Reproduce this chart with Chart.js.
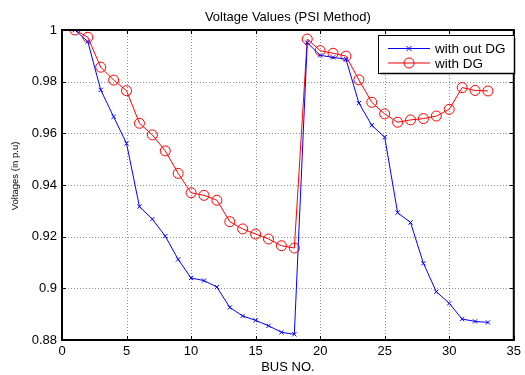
<!DOCTYPE html>
<html>
<head>
<meta charset="utf-8">
<script src="https://cdn.jsdelivr.net/npm/chart.js@4.4.1/dist/chart.umd.min.js"></script>
<style>
  html, body { margin: 0; padding: 0; background: #fff; }
  #wrap { width: 525px; height: 375px; }
</style>
</head>
<body>
<div id="wrap"><canvas id="c" width="525" height="375"></canvas></div>
<script>
const chartTitle = 'Voltage Values (PSI Method)';
const xTitle = 'BUS NO.';
const yTitle = 'Voltages (in p.u)';
const seriesNames = ['with out DG', 'with DG'];
const buses = [1,2,3,4,5,6,7,8,9,10,11,12,13,14,15,16,17,18,19,20,21,22,23,24,25,26,27,28,29,30,31,32,33];
const withoutDG = [1.000, 0.9955, 0.9768, 0.9664, 0.9561, 0.9316, 0.9268, 0.9202, 0.9112, 0.9040, 0.9030,
  0.9005, 0.8926, 0.8893, 0.8876, 0.8855, 0.8830, 0.8822, 0.9951, 0.9902, 0.9894, 0.9887, 0.9717,
  0.9631, 0.9585, 0.9293, 0.9255, 0.9097, 0.8987, 0.8942, 0.8881, 0.8872, 0.8868];
const withDG = [1.000, 0.9972, 0.9856, 0.9806, 0.9765, 0.9639, 0.9594, 0.9532, 0.9445, 0.9370, 0.9360,
  0.9341, 0.9258, 0.9230, 0.9210, 0.9191, 0.9165, 0.9156, 0.9965, 0.9920, 0.9910, 0.9899, 0.9807,
  0.9720, 0.9675, 0.9643, 0.9652, 0.9657, 0.9667, 0.9693, 0.9777, 0.9766, 0.9764];
const xTicks = [0, 5, 10, 15, 20, 25, 30, 35];
const yTicks = [0.88, 0.90, 0.92, 0.94, 0.96, 0.98, 1.00];

const FONT = '"Liberation Sans", Arial, sans-serif';

const matlabPlugin = {
  id: 'matlab',
  beforeDatasetsDraw(chart) {
    const {ctx, chartArea: a, scales: {x, y}} = chart;
    ctx.save();
    ctx.strokeStyle = 'rgba(0,0,0,0.45)';
    ctx.lineWidth = 1;
    ctx.setLineDash([1, 2]);
    xTicks.forEach(v => {
      const px = Math.round(x.getPixelForValue(v)) + 0.5;
      ctx.beginPath(); ctx.moveTo(px, a.top); ctx.lineTo(px, a.bottom); ctx.stroke();
    });
    yTicks.forEach(v => {
      const py = Math.round(y.getPixelForValue(v)) + 0.5;
      ctx.beginPath(); ctx.moveTo(a.left, py); ctx.lineTo(a.right, py); ctx.stroke();
    });
    ctx.restore();
  },
  afterDatasetsDraw(chart) {
    const {ctx, chartArea: a, scales: {x, y}} = chart;
    ctx.save();
    ctx.strokeStyle = '#000';
    ctx.lineWidth = 1;
    const t = 4;
    xTicks.forEach(v => {
      const px = Math.round(x.getPixelForValue(v)) + 0.5;
      ctx.beginPath(); ctx.moveTo(px, a.bottom); ctx.lineTo(px, a.bottom - t); ctx.stroke();
      ctx.beginPath(); ctx.moveTo(px, a.top); ctx.lineTo(px, a.top + t); ctx.stroke();
    });
    yTicks.forEach(v => {
      const py = Math.round(y.getPixelForValue(v)) + 0.5;
      ctx.beginPath(); ctx.moveTo(a.left, py); ctx.lineTo(a.left + t, py); ctx.stroke();
      ctx.beginPath(); ctx.moveTo(a.right, py); ctx.lineTo(a.right - t, py); ctx.stroke();
    });
    ctx.lineWidth = 2;
    ctx.strokeRect(a.left, a.top, a.right - a.left, a.bottom - a.top);
    ctx.restore();
  },
  afterDraw(chart) {
    const {ctx, chartArea: a} = chart;
    ctx.save();
    // title
    ctx.fillStyle = '#000';
    ctx.font = '13px ' + FONT;
    ctx.textAlign = 'center';
    ctx.textBaseline = 'middle';
    ctx.fillText(chartTitle, (a.left + a.right) / 2, 17);
    // y title
    ctx.save();
    ctx.translate(15, 176);
    ctx.rotate(-Math.PI / 2);
    ctx.font = '9.5px ' + FONT;
    ctx.fillText(yTitle, 0, 0);
    ctx.restore();
    // legend
    const bx = 378.5, by = 35.5, bw = 136, bh = 38;
    ctx.fillStyle = '#fff';
    ctx.fillRect(bx, by, bw, bh);
    ctx.strokeStyle = '#000';
    ctx.lineWidth = 1;
    ctx.strokeRect(bx, by, bw, bh);
    ctx.lineWidth = 1.5;
    ctx.beginPath(); ctx.moveTo(bx + bw, by + 2); ctx.lineTo(bx + bw, by + bh); ctx.lineTo(bx + 2, by + bh); ctx.stroke();
    const rows = [
      {label: seriesNames[0], color: '#0000ff', y: 48.5, mk: 'x'},
      {label: seriesNames[1], color: '#ff0000', y: 63, mk: 'o'}
    ];
    rows.forEach(r => {
      ctx.strokeStyle = r.color;
      ctx.lineWidth = 1;
      ctx.beginPath(); ctx.moveTo(388, r.y); ctx.lineTo(430, r.y); ctx.stroke();
      if (r.mk === 'x') {
        const s = 2.5;
        ctx.beginPath();
        ctx.moveTo(409 - s, r.y - s); ctx.lineTo(409 + s, r.y + s);
        ctx.moveTo(409 - s, r.y + s); ctx.lineTo(409 + s, r.y - s);
        ctx.stroke();
      } else {
        ctx.beginPath(); ctx.arc(409, r.y, 5, 0, Math.PI * 2); ctx.stroke();
      }
      ctx.fillStyle = '#000';
      ctx.font = '13.5px ' + FONT;
      ctx.textAlign = 'left';
      ctx.textBaseline = 'middle';
      ctx.fillText(r.label, 435, r.y + 1);
    });
    ctx.restore();
  }
};

new Chart(document.getElementById('c'), {
  type: 'line',
  data: {
    datasets: [
      {
        label: seriesNames[0],
        data: buses.map((b, i) => ({x: b, y: withoutDG[i]})),
        borderColor: '#0000ff',
        backgroundColor: '#0000ff',
        borderWidth: 1,
        pointStyle: 'crossRot',
        pointRadius: 3,
        pointBorderWidth: 1,
        pointBorderColor: '#0000ff',
        tension: 0,
        fill: false
      },
      {
        label: seriesNames[1],
        data: buses.map((b, i) => ({x: b, y: withDG[i]})),
        borderColor: '#ff0000',
        backgroundColor: 'rgba(0,0,0,0)',
        borderWidth: 1,
        pointStyle: 'circle',
        pointRadius: 5,
        pointBorderWidth: 1,
        pointBorderColor: '#ff0000',
        pointBackgroundColor: 'rgba(0,0,0,0)',
        tension: 0,
        fill: false
      }
    ]
  },
  options: {
    responsive: false,
    animation: false,
    devicePixelRatio: 1,
    layout: {padding: {top: 30, right: 8, left: 0, bottom: 0}},
    plugins: {legend: {display: false}, title: {display: false}, tooltip: {enabled: false}},
    scales: {
      x: {
        type: 'linear', min: 0, max: 35,
        afterBuildTicks: s => { s.ticks = xTicks.map(v => ({value: v})); },
        ticks: {color: '#000', font: {size: 13, family: FONT}, padding: 4, maxRotation: 0, autoSkip: false},
        grid: {display: false, drawTicks: false},
        border: {display: false},
        title: {display: true, text: xTitle, color: '#000', font: {size: 13, family: FONT}, padding: 0},
        afterFit: s => { s.height = 35; }
      },
      y: {
        type: 'linear', min: 0.88, max: 1,
        afterBuildTicks: s => { s.ticks = yTicks.map(v => ({value: v})); },
        ticks: {color: '#000', font: {size: 13, family: FONT}, padding: 5,
          callback: v => String(parseFloat(Number(v).toFixed(2)))},
        grid: {display: false, drawTicks: false},
        border: {display: false},
        afterFit: s => { s.width = 62; }
      }
    }
  },
  plugins: [matlabPlugin]
});
</script>
</body>
</html>
